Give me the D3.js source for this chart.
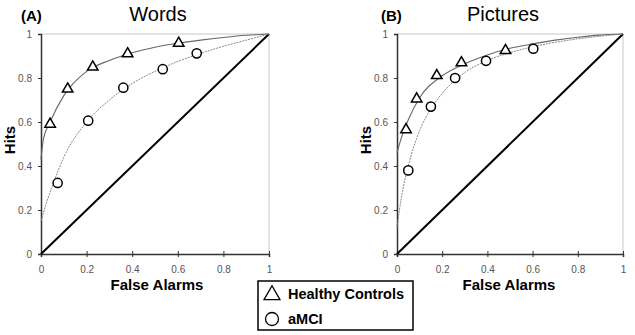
<!DOCTYPE html>
<html>
<head>
<meta charset="utf-8">
<script src="https://cdn.jsdelivr.net/npm/d3@7"></script>
<style>
  body { margin: 0; background: #fff; }
  text { font-family: Arial, "Liberation Sans", sans-serif; }
</style>
</head>
<body>
<svg id="chart" width="635" height="335"></svg>
<script>
// data
const ticks = [0, 0.2, 0.4, 0.6, 0.8, 1];
const tickLabels = ['0', '0.2', '0.4', '0.6', '0.8', '1'];
const legendLabels = ['Healthy Controls', 'aMCI'];

// panel A - Words
const wordsHC = [[0.04, 0.59], [0.117, 0.75], [0.227, 0.85], [0.38, 0.91], [0.604, 0.958]];
const wordsMCI = [[0.073, 0.323], [0.207, 0.606], [0.361, 0.756], [0.534, 0.84], [0.683, 0.912]];
const wordsHCCurve = [[0, 0.43], [0.01, 0.52], [0.04, 0.6], [0.1, 0.72], [0.2, 0.83], [0.3, 0.88],
    [0.4, 0.915], [0.5, 0.94], [0.6, 0.958], [0.7, 0.972], [0.8, 0.984], [0.9, 0.994], [1, 1]];
const wordsMCICurve = [[0, 0.15], [0.02, 0.22], [0.05, 0.31], [0.1, 0.44], [0.2, 0.6], [0.3, 0.7],
    [0.4, 0.775], [0.5, 0.83], [0.6, 0.875], [0.7, 0.912], [0.8, 0.944], [0.9, 0.972], [1, 1]];

// panel B - Pictures
const picsHC = [[0.04, 0.565], [0.087, 0.705], [0.176, 0.811], [0.285, 0.869], [0.48, 0.925]];
const picsMCI = [[0.05, 0.38], [0.15, 0.67], [0.257, 0.8], [0.394, 0.878], [0.603, 0.933]];
const picsHCCurve = [[0, 0.46], [0.02, 0.53], [0.05, 0.61], [0.1, 0.71], [0.2, 0.81], [0.3, 0.865],
    [0.4, 0.905], [0.5, 0.935], [0.6, 0.955], [0.7, 0.972], [0.8, 0.985], [0.9, 0.995], [1, 1]];
const picsMCICurve = [[0, 0.12], [0.02, 0.26], [0.05, 0.4], [0.1, 0.56], [0.15, 0.66], [0.2, 0.73],
    [0.3, 0.825], [0.4, 0.88], [0.5, 0.915], [0.6, 0.942], [0.7, 0.962], [0.8, 0.978], [0.9, 0.99], [1, 1]];

const panels = [
    { tag: '(A)', title: 'Words', left: 41, right: 269, tagX: 21, titleX: 158, labelX: 157, hitsX: 15,
      hc: wordsHC, mci: wordsMCI, hcCurve: wordsHCCurve, mciCurve: wordsMCICurve },
    { tag: '(B)', title: 'Pictures', left: 397, right: 623, tagX: 381, titleX: 503, labelX: 509, hitsX: 371,
      hc: picsHC, mci: picsMCI, hcCurve: picsHCCurve, mciCurve: picsMCICurve }
];

const plotTop = 34;
const plotBottom = 254;

const svg = d3.select('#chart');

panels.forEach(p => {
    const x = d3.scaleLinear().domain([0, 1]).range([p.left, p.right]);
    const y = d3.scaleLinear().domain([0, 1]).range([plotBottom, plotTop]);
    const g = svg.append('g');

    // top / right frame
    g.append('path')
        .attr('d', `M${x(0)},${y(1)}H${x(1)}V${y(0)}`)
        .attr('fill', 'none')
        .attr('stroke', '#c8c8c8')
        .attr('stroke-width', 1);

    // axes
    const xAxis = g.append('g')
        .attr('transform', `translate(0,${plotBottom})`)
        .call(d3.axisBottom(x).tickValues(ticks).tickFormat((d, i) => tickLabels[i]).tickSize(3).tickPadding(9));
    xAxis.selectAll('.tick line').attr('y1', -3).attr('y2', 3);

    const yAxis = g.append('g')
        .attr('transform', `translate(${p.left},0)`)
        .call(d3.axisLeft(y).tickValues(ticks).tickFormat((d, i) => tickLabels[i]).tickSize(3).tickPadding(6));

    [xAxis, yAxis].forEach(a => {
        a.select('.domain').attr('stroke', '#333').attr('stroke-width', 1.5);
        a.selectAll('.tick line').attr('stroke', '#333');
        a.selectAll('.tick text').attr('fill', '#555').style('font-size', '10px');
    });

    // chance line
    g.append('line')
        .attr('x1', x(0)).attr('y1', y(0))
        .attr('x2', x(1)).attr('y2', y(1))
        .attr('stroke', '#000')
        .attr('stroke-width', 2);

    // fitted curves
    const line = d3.line().x(d => x(d[0])).y(d => y(d[1])).curve(d3.curveMonotoneX);
    g.append('path').datum(p.hcCurve)
        .attr('d', line)
        .attr('fill', 'none').attr('stroke', '#666').attr('stroke-width', 1.1);
    g.append('path').datum(p.mciCurve)
        .attr('d', line)
        .attr('fill', 'none').attr('stroke', '#888').attr('stroke-width', 1)
        .attr('stroke-dasharray', '2,1');

    // markers
    g.selectAll('.tri').data(p.hc).enter()
        .append('path')
        .attr('transform', d => `translate(${x(d[0])},${y(d[1])})`)
        .attr('d', d3.symbol(d3.symbolTriangle, 48))
        .attr('fill', '#fff').attr('stroke', '#000').attr('stroke-width', 1.5);
    g.selectAll('.circ').data(p.mci).enter()
        .append('circle')
        .attr('cx', d => x(d[0])).attr('cy', d => y(d[1]))
        .attr('r', 4.6)
        .attr('fill', '#fff').attr('stroke', '#000').attr('stroke-width', 1.5);

    // labels
    g.append('text')
        .attr('x', p.labelX).attr('y', 290)
        .attr('text-anchor', 'middle')
        .style('font-size', '15px').style('font-weight', 'bold')
        .text('False Alarms');
    g.append('text')
        .attr('transform', `translate(${p.hitsX},${(plotTop + plotBottom) / 2 - 4}) rotate(-90)`)
        .attr('text-anchor', 'middle')
        .style('font-size', '15px').style('font-weight', 'bold')
        .text('Hits');
    g.append('text')
        .attr('x', p.tagX).attr('y', 21)
        .style('font-size', '15px').style('font-weight', 'bold')
        .text(p.tag);
    g.append('text')
        .attr('x', p.titleX).attr('y', 21)
        .attr('text-anchor', 'middle')
        .style('font-size', '20px')
        .text(p.title);
});

// legend
const legend = svg.append('g').attr('transform', 'translate(258,281)');
legend.append('rect')
    .attr('width', 155).attr('height', 49)
    .attr('fill', '#fff').attr('stroke', '#000').attr('stroke-width', 1.5);
legendLabels.forEach((label, i) => {
    const row = legend.append('g').attr('transform', `translate(0,${13 + i * 25})`);
    if (i === 0) {
        row.append('path')
            .attr('transform', 'translate(14,1)')
            .attr('d', d3.symbol(d3.symbolTriangle, 110))
            .attr('fill', '#fff').attr('stroke', '#000').attr('stroke-width', 1.3);
    } else {
        row.append('circle')
            .attr('cx', 14).attr('cy', 0).attr('r', 6.5)
            .attr('fill', '#fff').attr('stroke', '#000').attr('stroke-width', 1.3);
    }
    row.append('text')
        .attr('x', 30).attr('y', 5)
        .style('font-size', '14.5px').style('font-weight', 'bold')
        .text(label);
});
</script>
</body>
</html>
